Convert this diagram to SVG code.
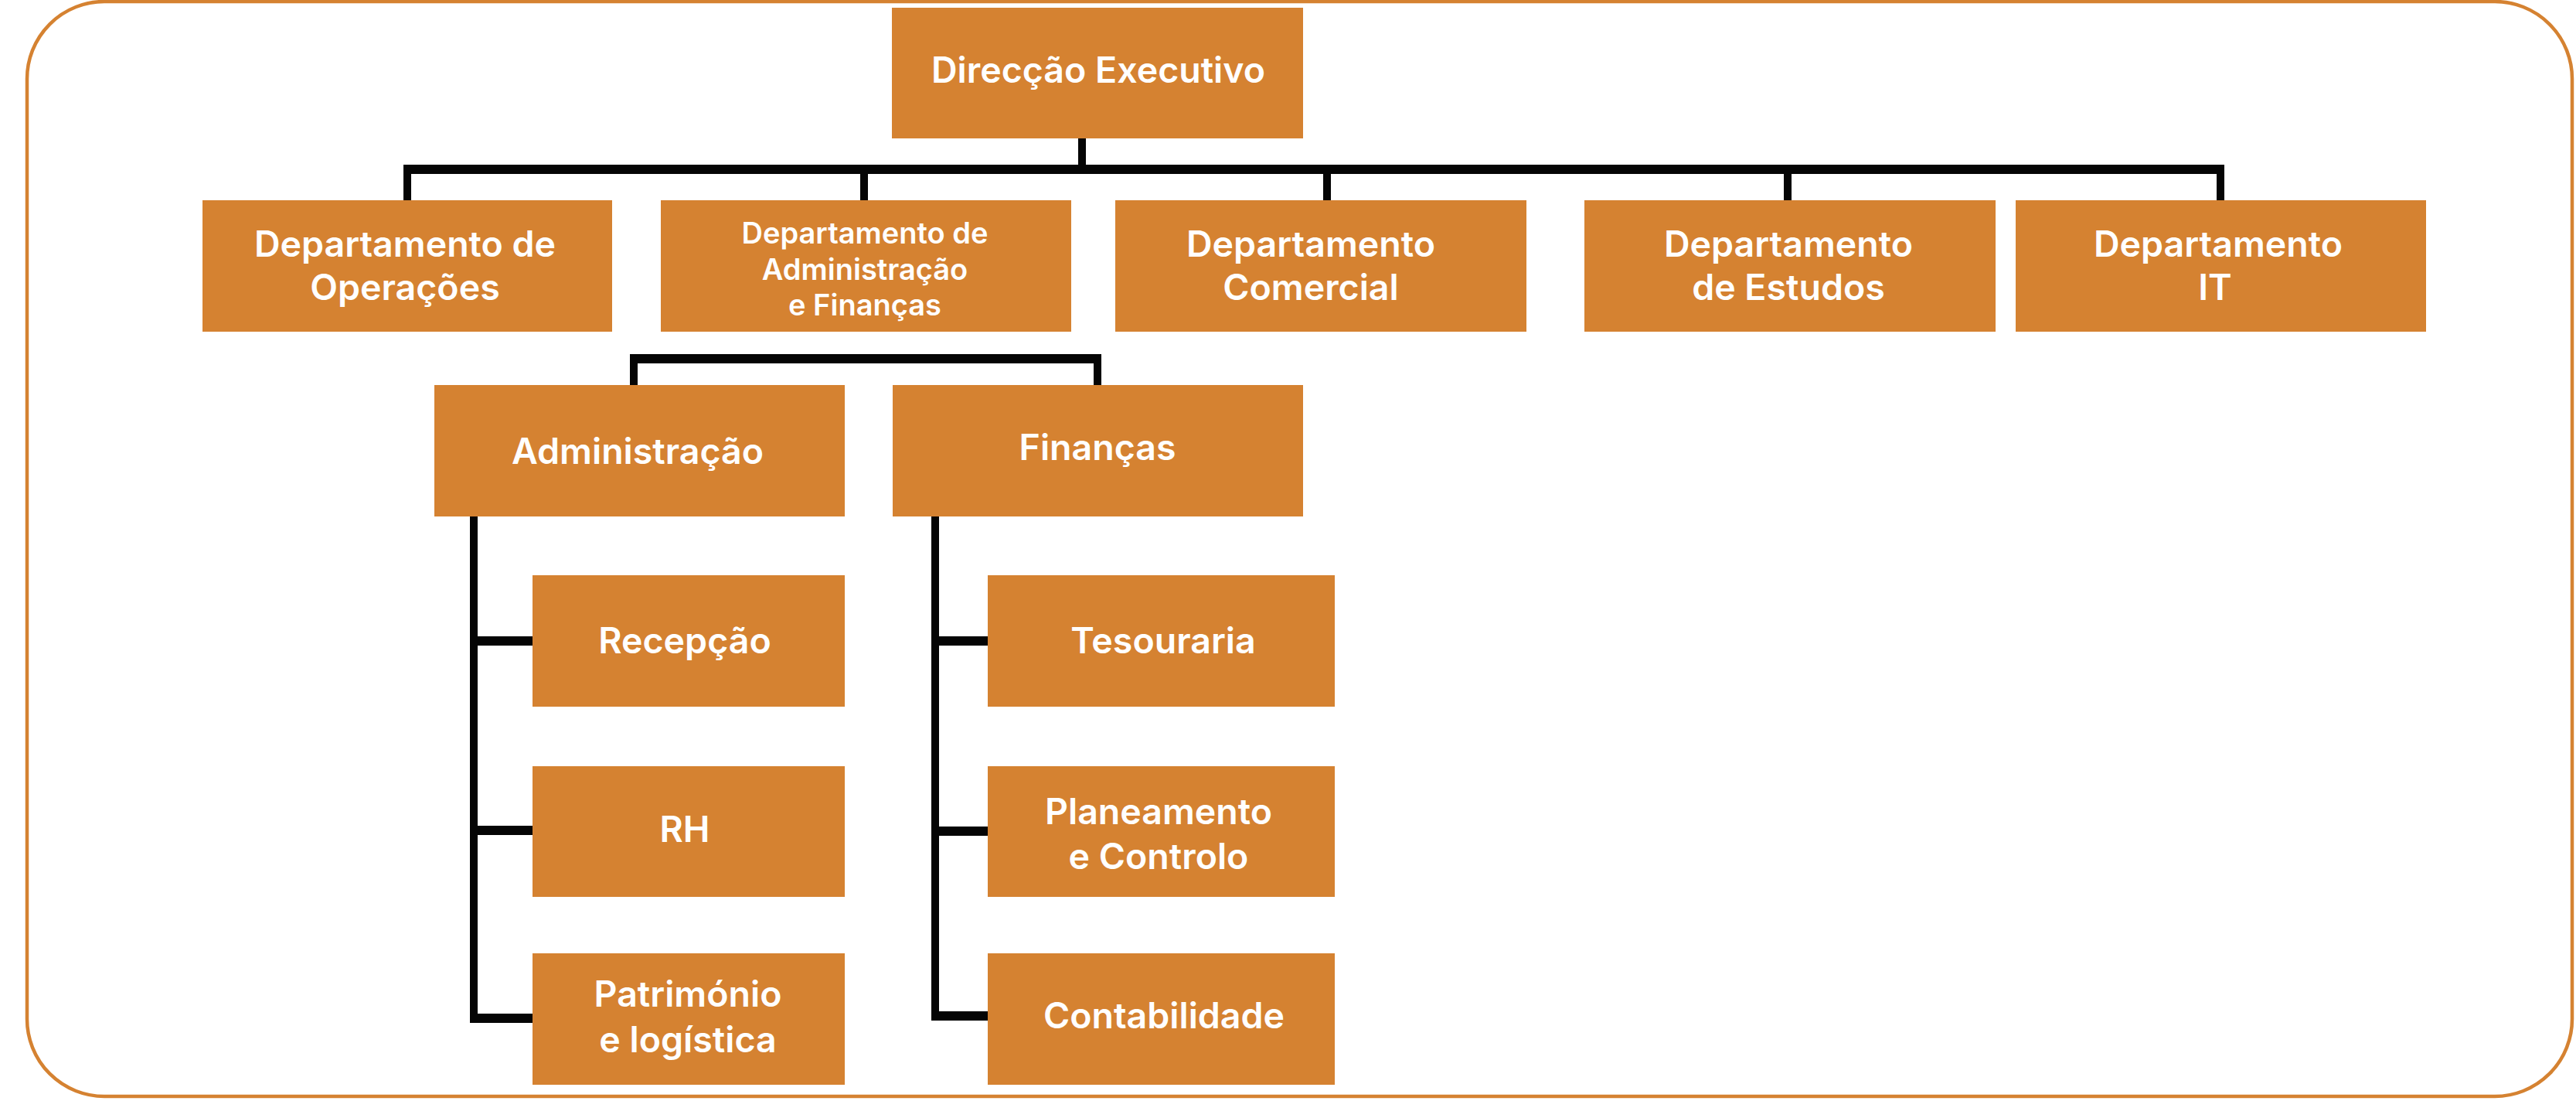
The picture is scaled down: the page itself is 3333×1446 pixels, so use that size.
<svg xmlns="http://www.w3.org/2000/svg" width="3333" height="1446" viewBox="0 0 3333 1446">
<style>
.box{fill:#D58231}
.t{font-family:Inter,"Noto Sans","Liberation Sans",sans-serif;font-weight:600;font-size:46.5px;fill:#FFFFFF;text-anchor:middle}
.s{font-size:38px}
.h{stroke:#050505;stroke-width:12;fill:none}
.v{stroke:#050505;stroke-width:10;fill:none}
</style>
<rect x="0" y="0" width="3333" height="1446" fill="#FFFFFF"/>
<rect id="frame" x="35" y="2" width="3293" height="1416" rx="100" ry="100" fill="none" stroke="#D58231" stroke-width="4.5"/>
<g id="connectors">
<line class="h" x1="522" y1="219" x2="2878" y2="219"/>
<line class="v" x1="1400" y1="179" x2="1400" y2="219"/>
<line class="v" x1="527" y1="213" x2="527" y2="259"/>
<line class="v" x1="1118" y1="219" x2="1118" y2="259"/>
<line class="v" x1="1717" y1="219" x2="1717" y2="259"/>
<line class="v" x1="2313" y1="219" x2="2313" y2="259"/>
<line class="v" x1="2873" y1="213" x2="2873" y2="259"/>
<line class="h" x1="815" y1="464" x2="1425" y2="464"/>
<line class="v" x1="820" y1="458" x2="820" y2="498"/>
<line class="v" x1="1420" y1="458" x2="1420" y2="498"/>
<line class="v" x1="613" y1="668" x2="613" y2="1323"/>
<line class="h" x1="608" y1="829" x2="689" y2="829"/>
<line class="h" x1="608" y1="1074" x2="689" y2="1074"/>
<line class="h" x1="608" y1="1317" x2="689" y2="1317"/>
<line class="v" x1="1210" y1="668" x2="1210" y2="1320"/>
<line class="h" x1="1205" y1="829" x2="1278" y2="829"/>
<line class="h" x1="1205" y1="1075" x2="1278" y2="1075"/>
<line class="h" x1="1205" y1="1314" x2="1278" y2="1314"/>
</g>
<g id="direccao"><rect class="box" x="1154" y="10" width="532" height="169"/><text class="t" x="1421" y="107">Direcção Executivo</text></g>
<g id="operacoes"><rect class="box" x="262" y="259" width="530" height="170"/><text class="t" x="524" y="332">Departamento de</text><text class="t" x="524" y="388">Operações</text></g>
<g id="admfin"><rect class="box" x="855" y="259" width="531" height="170"/><text class="t s" x="1119" y="315">Departamento de</text><text class="t s" x="1119" y="362">Administração</text><text class="t s" x="1119" y="408">e Finanças</text></g>
<g id="comercial"><rect class="box" x="1443" y="259" width="532" height="170"/><text class="t" x="1696" y="332">Departamento</text><text class="t" x="1696" y="388">Comercial</text></g>
<g id="estudos"><rect class="box" x="2050" y="259" width="532" height="170"/><text class="t" x="2314" y="332">Departamento</text><text class="t" x="2314" y="388">de Estudos</text></g>
<g id="it"><rect class="box" x="2608" y="259" width="531" height="170"/><text class="t" x="2870" y="332">Departamento</text><text class="t" x="2866" y="388">IT</text></g>
<g id="administracao"><rect class="box" x="562" y="498" width="531" height="170"/><text class="t" x="825" y="600">Administração</text></g>
<g id="financas"><rect class="box" x="1155" y="498" width="531" height="170"/><text class="t" x="1420" y="595">Finanças</text></g>
<g id="recepcao"><rect class="box" x="689" y="744" width="404" height="170"/><text class="t" x="886" y="845">Recepção</text></g>
<g id="rh"><rect class="box" x="689" y="991" width="404" height="169"/><text class="t" x="886" y="1089">RH</text></g>
<g id="patrimonio"><rect class="box" x="689" y="1233" width="404" height="170"/><text class="t" x="890" y="1302">Património</text><text class="t" x="890" y="1361">e logística</text></g>
<g id="tesouraria"><rect class="box" x="1278" y="744" width="449" height="170"/><text class="t" x="1505" y="845">Tesouraria</text></g>
<g id="planeamento"><rect class="box" x="1278" y="991" width="449" height="169"/><text class="t" x="1499" y="1066">Planeamento</text><text class="t" x="1499" y="1124">e Controlo</text></g>
<g id="contabilidade"><rect class="box" x="1278" y="1233" width="449" height="170"/><text class="t" x="1506" y="1330">Contabilidade</text></g>
</svg>
